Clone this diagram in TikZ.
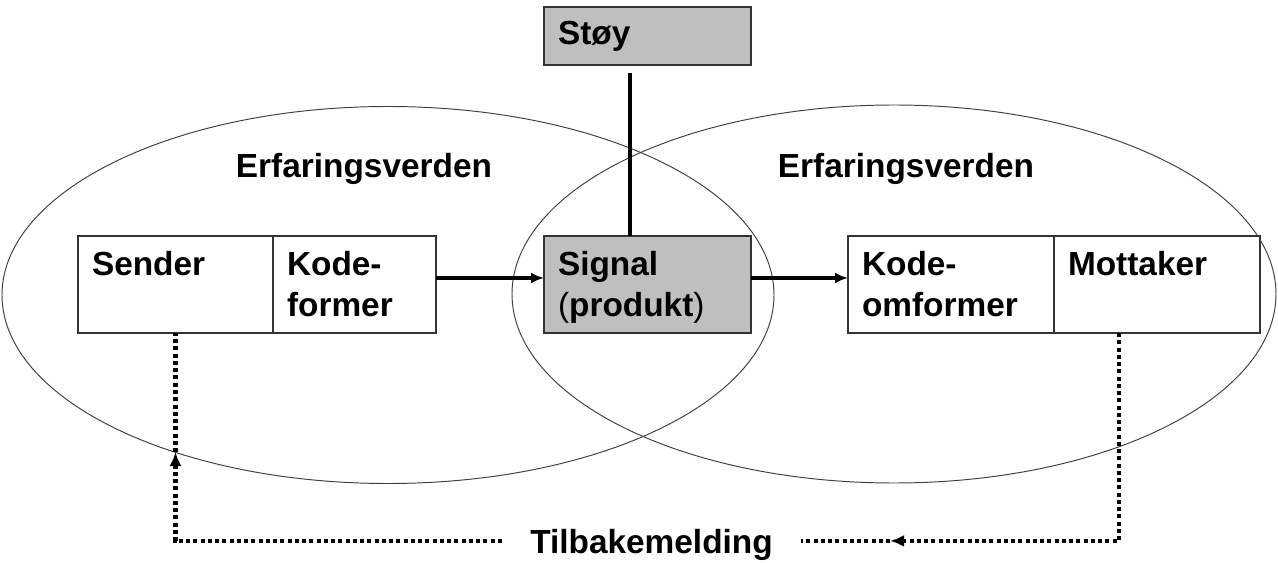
\documentclass[tikz,border=0pt]{standalone}
\usepackage{fontspec}
\setmainfont{Liberation Sans}
\usetikzlibrary{positioning, arrows.meta}

\newcommand{\boxtext}[2]{\rule{0pt}{0.71cm}#1\\\strut#2}

\begin{document}
\begin{tikzpicture}[
    every node/.style={font=\fontsize{19}{23.8}\selectfont\bfseries},
    box/.style={draw=black!80, fill=white, line width=0.6pt, outer sep=0pt,
                align=left, inner xsep=0.28cm, inner ysep=0pt, minimum height=1.94cm},
    graybox/.style={box, fill=black!25},
    world/.style={draw=black!75, line width=0.55pt},
    flow/.style={-{Latex[length=0.26cm, width=0.22cm]}, line width=1.8pt},
    feedback/.style={line width=2.3pt, dash pattern=on 0.08cm off 0.065cm},
    node distance=2cm
  ]
    \useasboundingbox (0,0) rectangle (25.56,-11.26);

    % the two worlds of experience
    \draw[world] (7.76,-5.9) ellipse [x radius=7.72cm, y radius=3.77cm];
    \draw[world] (17.88,-5.88) ellipse [x radius=7.64cm, y radius=3.78cm];
    \node[anchor=base] (erf-l) at (7.28,-3.56) {Erfaringsverden};
    \node[anchor=base] (erf-r) at (18.12,-3.56) {Erfaringsverden};

    % boxes
    \node[graybox, text width=3.58cm] (signal) at (12.95,-5.69)
        {\boxtext{Signal}{{\mdseries(}produkt{\mdseries)}}};
    \node[box, text width=2.70cm, left=2.16cm of signal]   (koder)    {\boxtext{Kode-}{former}};
    \node[box, text width=3.34cm, left=0pt of koder]       (sender)   {\boxtext{Sender}{}};
    \node[box, text width=3.56cm, right=1.94cm of signal]  (omformer) {\boxtext{Kode-}{omformer}};
    \node[box, text width=3.56cm, right=0pt of omformer]   (mottaker) {\boxtext{Mottaker}{}};
    \node[graybox, text width=3.58cm, minimum height=1.16cm, above=3.42cm of signal] (stoy) {Støy};

    \node[anchor=base, text depth=0pt, inner xsep=0.56cm] (tilbake) at (13.03,-11.06) {Tilbakemelding};

    % connections
    \draw[flow] ([yshift=0.13cm]koder.east) -- ([yshift=0.13cm]signal.west);
    \draw[flow] ([yshift=0.13cm]signal.east) -- ([yshift=0.13cm]omformer.west);
    \draw[line width=2.2pt] ([xshift=-0.35cm, yshift=-0.16cm]stoy.south) -- ([xshift=-0.35cm]signal.north);

    % feedback
    \coordinate (fb-top) at ([xshift=-0.76cm]mottaker.south);
    \draw[feedback, -{Latex[length=0.28cm, width=0.24cm]}]
        (fb-top) |- ([xshift=1.78cm]tilbake.east) coordinate (fb-tip);
    \draw[feedback] (fb-tip) -- (tilbake.east);
    \draw[feedback, -{Latex[length=0.28cm, width=0.24cm]}]
        (tilbake.west) -| ([yshift=-2.38cm]sender.south) coordinate (fb-up);
    \draw[feedback] (fb-up) -- (sender.south);
\end{tikzpicture}
\end{document}
